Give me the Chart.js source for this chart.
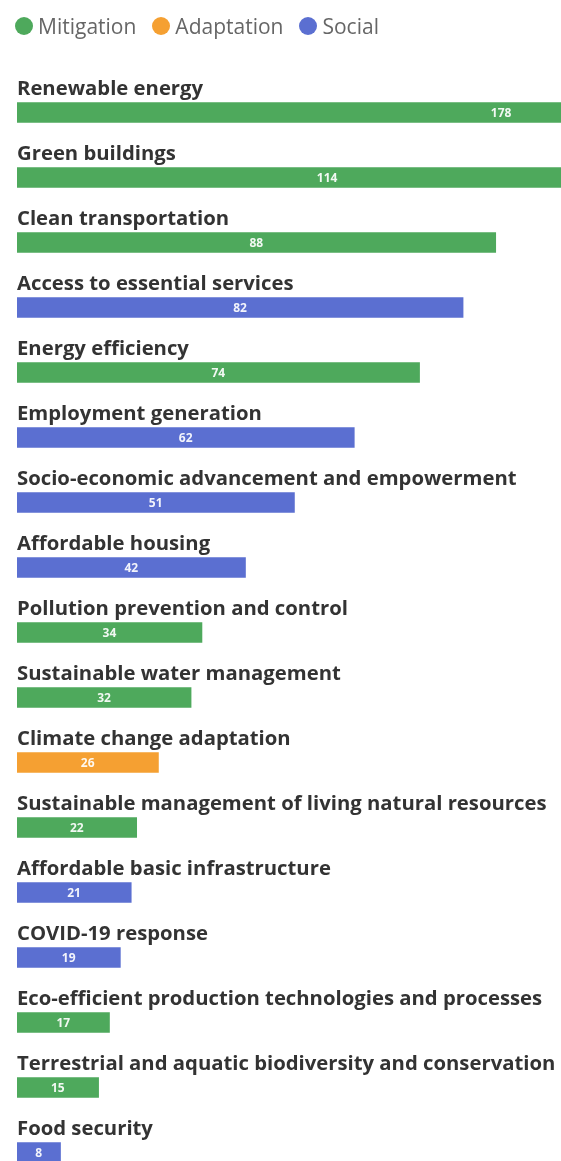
<!DOCTYPE html>
<html>
<head>
<meta charset="utf-8">
<script src="https://cdn.jsdelivr.net/npm/chart.js@4"></script>
<style>
  html, body { margin: 0; padding: 0; background: #fff; overflow: hidden; }
  #wrap { position: relative; width: 561px; height: 1190px; }
  #legend { position: absolute; top: 12px; left: 15px; font-family: "Open Sans", sans-serif; font-size: 21px; color: #666; display: flex; align-items: center; white-space: nowrap; }
  .item { display: flex; align-items: center; margin-right: 16px; }
  .dot { width: 18px; height: 18px; border-radius: 50%; margin-right: 5px; display: inline-block; }
  canvas { position: absolute; top: 0; left: 0; }
</style>
</head>
<body>
<div id="wrap">
  <canvas id="c" width="561" height="1190"></canvas>
  <div id="legend"></div>
</div>
<script>
const categories = [
  "Renewable energy",
  "Green buildings",
  "Clean transportation",
  "Access to essential services",
  "Energy efficiency",
  "Employment generation",
  "Socio-economic advancement and empowerment",
  "Affordable housing",
  "Pollution prevention and control",
  "Sustainable water management",
  "Climate change adaptation",
  "Sustainable management of living natural resources",
  "Affordable basic infrastructure",
  "COVID-19 response",
  "Eco-efficient production technologies and processes",
  "Terrestrial and aquatic biodiversity and conservation",
  "Food security"
];
const values = [178, 114, 88, 82, 74, 62, 51, 42, 34, 32, 26, 22, 21, 19, 17, 15, 8];
const groups = ["Mitigation","Mitigation","Mitigation","Social","Mitigation","Social","Social","Social","Mitigation","Mitigation","Adaptation","Mitigation","Social","Social","Mitigation","Mitigation","Social"];
const legendNames = ["Mitigation", "Adaptation", "Social"];
const groupColors = { "Mitigation": "#4ea95c", "Adaptation": "#f5a032", "Social": "#5b6fd1" };
const axisMax = 100;

// legend
const lg = document.getElementById('legend');
legendNames.forEach(n => {
  const it = document.createElement('span'); it.className = 'item';
  const d = document.createElement('span'); d.className = 'dot'; d.style.background = groupColors[n];
  const t = document.createElement('span'); t.textContent = n;
  it.appendChild(d); it.appendChild(t); lg.appendChild(it);
});

const labelPlugin = {
  id: 'labelPlugin',
  afterDatasetsDraw(chart) {
    const ctx = chart.ctx;
    const xs = chart.scales.x, ys = chart.scales.y;
    ctx.save();
    categories.forEach((c, i) => {
      const yc = ys.getPixelForValue(i);
      ctx.font = 'bold 20.3px "Open Sans", sans-serif';
      ctx.fillStyle = '#333';
      ctx.textAlign = 'left';
      ctx.textBaseline = 'alphabetic';
      ctx.fillText(c, xs.left, yc - 18);
      const xm = xs.getPixelForValue(values[i] / 2);
      ctx.font = 'bold 12px "Open Sans", sans-serif';
      ctx.fillStyle = 'rgba(255,255,255,0.92)';
      ctx.textAlign = 'center';
      ctx.textBaseline = 'middle';
      ctx.fillText(String(values[i]), xm, yc + 1);
    });
    ctx.restore();
  }
};

new Chart(document.getElementById('c'), {
  type: 'bar',
  data: {
    labels: categories,
    datasets: [{
      data: values,
      backgroundColor: groups.map(g => groupColors[g]),
      barThickness: 20,
      borderWidth: 0
    }]
  },
  options: {
    indexAxis: 'y',
    responsive: false,
    animation: false,
    devicePixelRatio: 1,
    layout: { padding: { left: 17, right: 0, top: 80, bottom: 5 } },
    plugins: { legend: { display: false }, tooltip: { enabled: false } },
    scales: {
      x: { min: 0, max: axisMax, display: false },
      y: { display: false, offset: true }
    }
  },
  plugins: [labelPlugin]
});
</script>
</body>
</html>
